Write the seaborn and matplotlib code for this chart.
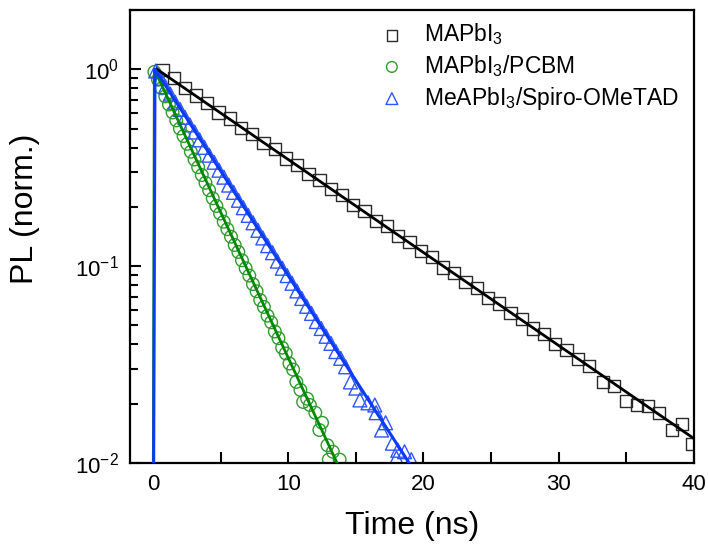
import numpy as np
import pandas as pd
import matplotlib
matplotlib.use('Agg')
import matplotlib.pyplot as plt
import matplotlib.ticker as mticker
import seaborn as sns

# ===================== 数据 =====================
black_t = [0.70, 1.53, 2.36, 3.19, 4.02, 4.85, 5.68, 6.51, 7.34, 8.17, 9.00, 9.83,
           10.66, 11.49, 12.32, 13.15, 13.98, 14.81, 15.64, 16.47, 17.30, 18.13, 18.96,
           19.79, 20.62, 21.45, 22.28, 23.11, 23.94, 24.77, 25.60, 26.43, 27.26, 28.09,
           28.92, 29.75, 30.58, 31.41, 32.24, 33.3, 34.1, 35.0, 35.8, 36.6, 37.4, 38.4,
           39.1, 39.9]
black_y = [0.99, 0.905, 0.805, 0.735, 0.672, 0.603, 0.562, 0.505, 0.470, 0.421, 0.392,
           0.352, 0.327, 0.293, 0.274, 0.246, 0.229, 0.204, 0.191, 0.170, 0.160, 0.142,
           0.133, 0.119, 0.111, 0.0985, 0.0925, 0.0830, 0.0772, 0.0690, 0.0645, 0.0578,
           0.0538, 0.0482, 0.0450, 0.0402, 0.0374, 0.0336, 0.0312, 0.0258, 0.0245,
           0.0206, 0.0197, 0.0195, 0.0180, 0.0147, 0.0158, 0.0125]

green_t = [0.10, 0.37, 0.64, 0.91, 1.18, 1.45, 1.72, 1.99, 2.26, 2.53, 2.80, 3.07,
           3.34, 3.61, 3.88, 4.15, 4.42, 4.69, 4.96, 5.23, 5.50, 5.77, 6.04, 6.31, 6.58,
           6.85, 7.12, 7.39, 7.66, 7.93, 8.20, 8.47, 8.74, 9.01, 9.28, 9.55, 9.82, 10.09,
           10.36, 10.6, 10.9, 11.1, 11.4, 11.6, 12.0, 12.3, 12.5, 12.9, 13.0, 13.3, 13.8]
green_y = [0.97, 0.885, 0.800, 0.728, 0.662, 0.603, 0.550, 0.500, 0.458, 0.418, 0.381,
           0.348, 0.318, 0.290, 0.265, 0.243, 0.221, 0.202, 0.185, 0.168, 0.154, 0.141,
           0.128, 0.118, 0.107, 0.0975, 0.0895, 0.0810, 0.0745, 0.0672, 0.0620, 0.0560,
           0.0518, 0.0465, 0.0430, 0.0385, 0.0360, 0.0320, 0.0298, 0.0258, 0.0235,
           0.0204, 0.0212, 0.0197, 0.0180, 0.0147, 0.0160, 0.0123, 0.0104, 0.0114, 0.0104]

blue_t = [0.20, 0.56, 0.92, 1.28, 1.64, 2.00, 2.36, 2.72, 3.08, 3.44, 3.80, 4.16, 4.52,
          4.88, 5.24, 5.60, 5.96, 6.32, 6.68, 7.04, 7.40, 7.76, 8.12, 8.48, 8.84, 9.20,
          9.56, 9.92, 10.28, 10.64, 11.00, 11.36, 11.72, 12.08, 12.44, 12.80, 13.16,
          13.52, 13.88, 14.24, 14.6, 15.0, 15.3, 15.9, 16.4, 16.5, 16.9, 17.2, 17.7,
          18.0, 18.1, 18.6, 19.1]
blue_y = [0.98, 0.900, 0.815, 0.748, 0.680, 0.625, 0.570, 0.522, 0.480, 0.438, 0.401,
          0.366, 0.337, 0.307, 0.283, 0.258, 0.237, 0.216, 0.198, 0.181, 0.166, 0.152,
          0.139, 0.127, 0.117, 0.106, 0.0975, 0.0895, 0.0818, 0.0748, 0.0685, 0.0625,
          0.0575, 0.0523, 0.0482, 0.0440, 0.0405, 0.0368, 0.0340, 0.0308, 0.0258,
          0.0240, 0.0209, 0.0202, 0.0197, 0.0180, 0.0147, 0.0160, 0.0126, 0.0106,
          0.0116, 0.0114, 0.0104]

# 拟合曲线
black_fit_t = [0.3, 40.0]
black_fit_y = [1.0, 0.0133]
green_fit_t = [0.0, 0.1, 14.3]
green_fit_y = [0.001, 1.0, 0.0079]
blue_fit_t = [0.0, 0.15, 19.6]
blue_fit_y = [0.001, 1.0, 0.0085]

labels = ['MAPbI$_\\mathregular{3}$', 'MAPbI$_\\mathregular{3}$/PCBM',
          'MeAPbI$_\\mathregular{3}$/Spiro-OMeTAD']

# ===================== 全局设置 =====================
sns.set_theme(style='ticks')
plt.rcParams['font.family'] = ['Liberation Sans', 'DejaVu Sans']
plt.rcParams['mathtext.fontset'] = 'custom'
plt.rcParams['mathtext.rm'] = 'Liberation Sans'
plt.rcParams['mathtext.it'] = 'Liberation Sans:italic'
plt.rcParams['mathtext.default'] = 'regular'
plt.rcParams['text.color'] = 'black'
plt.rcParams['axes.labelcolor'] = 'black'

fig = plt.figure(figsize=(7.08, 5.44), dpi=100)
ax = fig.add_axes([0.1836, 0.149, 0.7966, 0.8326])

sns.scatterplot(x=black_t, y=black_y, ax=ax, marker='s', s=78, facecolors='none',
                edgecolor='#2a2a2a', linewidth=1.0, label=labels[0], zorder=2)
sns.scatterplot(x=green_t, y=green_y, ax=ax, marker='o', s=82, facecolors='none',
                edgecolor='#2f9b2f', linewidth=1.0, label=labels[1], zorder=2)
sns.scatterplot(x=blue_t, y=blue_y, ax=ax, marker='^', s=100, facecolors='none',
                edgecolor='#2f55ff', linewidth=1.0, label=labels[2], zorder=2)

sns.lineplot(x=black_fit_t, y=black_fit_y, ax=ax, color='black', lw=2.0,
             sort=False, estimator=None, zorder=3)
sns.lineplot(x=green_fit_t, y=green_fit_y, ax=ax, color='#008800', lw=2.0,
             sort=False, estimator=None, zorder=3)
sns.lineplot(x=blue_fit_t, y=blue_fit_y, ax=ax, color='#0a3cf5', lw=2.2,
             sort=False, estimator=None, zorder=4)

ax.set_yscale('log')
ax.set_xlim(-1.7, 40)
ax.set_ylim(0.01, 2.0)

ax.xaxis.set_major_locator(mticker.MultipleLocator(10))
ax.xaxis.set_minor_locator(mticker.MultipleLocator(5))
ax.yaxis.set_major_locator(mticker.LogLocator(base=10))
ax.yaxis.set_minor_locator(mticker.LogLocator(base=10, subs=np.arange(2, 10)))
ax.yaxis.set_minor_formatter(mticker.NullFormatter())

ax.tick_params(which='both', direction='in', width=1.5, labelsize=16,
               colors='black', labelcolor='black')
ax.tick_params(which='major', length=8, pad=8)
ax.tick_params(axis='x', which='minor', length=8)
ax.tick_params(axis='y', which='minor', length=5.5)
for sp in ax.spines.values():
    sp.set_linewidth(1.6)
    sp.set_color('black')

ax.set_xlabel('Time (ns)', fontsize=23, color='black')
ax.set_ylabel('PL (norm.)', fontsize=23, color='black')
ax.xaxis.set_label_coords(0.5, -0.105)
ax.yaxis.set_label_coords(-0.16, 0.56)

handles = ax.collections[:3]
leg = ax.legend(handles=handles, labels=labels, loc='upper left',
                bbox_to_anchor=(0.444, 0.975), frameon=False, fontsize=16.5,
                handlelength=1.0, handletextpad=0.9, borderpad=0,
                labelspacing=0.25, borderaxespad=0, markerscale=0.85,
                labelcolor='black')

fig.savefig('out.png', dpi=100)
